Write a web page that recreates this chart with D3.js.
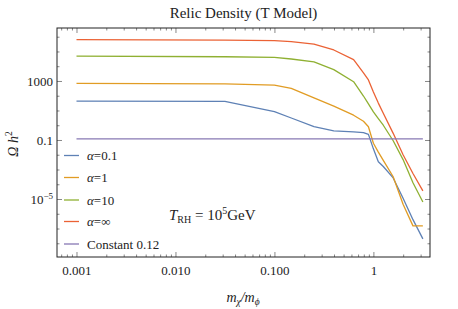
<!DOCTYPE html>
<html><head><meta charset="utf-8">
<script src="https://cdn.jsdelivr.net/npm/d3@7"></script>
<style>body{margin:0;background:#fff}svg{display:block}text{font-family:"Liberation Serif","DejaVu Serif",serif;fill:#222}</style>
</head><body><svg id="c" width="458" height="309"></svg>
<script>
// x values (m_chi / m_phi)
const massRatio = [0.001, 0.0316, 0.1, 0.148, 0.251, 0.398, 0.631, 0.794, 0.891, 1.0, 1.122, 1.259, 1.585, 1.995, 2.512, 3.162];
// log10(Omega h^2) for each series
const alpha01  = [1.64, 1.62, 0.92, 0.49, -0.10, -0.38, -0.45, -0.50, -0.62, -1.60, -2.47, -2.80, -3.57, -4.95, -6.40, -7.70];
const alpha1   = [2.84, 2.80, 2.72, 2.50, 1.86, 1.30, 0.68, 0.27, -0.10, -1.22, -1.82, -2.38, -3.49, -5.35, -6.82, -6.82];
const alpha10  = [4.69, 4.64, 4.60, 4.49, 4.30, 3.77, 2.95, 1.98, 1.45, 0.90, 0.45, 0.00, -1.05, -2.33, -3.90, -5.20];
const alphaInf = [5.80, 5.77, 5.73, 5.66, 5.50, 5.10, 4.45, 3.55, 3.07, 2.25, 1.50, 0.81, -0.55, -2.00, -3.27, -4.45];
const constant = massRatio.map(() => 0.12);
const seriesNames = ["α=0.1", "α=1", "α=10", "α=∞", "Constant 0.12"];
const colors = ["#5E81B5", "#E19C24", "#8FB032", "#EB6235", "#8778B3"];
const xTickLabels = ["0.001", "0.010", "0.100", "1"];
const xTickValues = [0.001, 0.01, 0.1, 1];
const yTickValues = [1e3, 1e-1, 1e-5];

const svg = d3.select("#c");
const L = 57, R = 430, T = 28, B = 257;
const x = d3.scaleLog().domain([Math.pow(10, -3.197), Math.pow(10, 0.572)]).range([L, R]);
const y = d3.scaleLog().domain([Math.pow(10, -8.93), Math.pow(10, 6.59)]).range([B, T]);

// minor ticks
const xMinor = [];
for (let e = -4; e <= 0; e++) for (let m = 2; m <= 9; m++) { const v = m * Math.pow(10, e); if (v >= x.domain()[0] && v <= x.domain()[1]) xMinor.push(v); }
const yMinor = [];
for (let e = -8; e <= 6; e++) { const v = Math.pow(10, e); if ([3, -1, -5].indexOf(e) < 0) yMinor.push(v); }

function styleAxis(g){ g.select(".domain").remove(); g.selectAll("line").attr("stroke","#555").attr("stroke-width",0.7); }
function styleText(g){ g.selectAll("text").attr("font-size",13).attr("font-family","Liberation Serif, serif").attr("fill","#222"); }

// bottom
svg.append("g").attr("transform",`translate(0,${B})`)
  .call(d3.axisBottom(x).tickValues(xTickValues).tickSizeInner(-5).tickSizeOuter(0).tickPadding(9).tickFormat((d,i)=>xTickLabels[i]))
  .call(styleAxis).call(styleText);
svg.append("g").attr("transform",`translate(0,${B})`)
  .call(d3.axisBottom(x).tickValues(xMinor).tickSizeInner(-2.5).tickSizeOuter(0).tickFormat("")).call(styleAxis);
// top
svg.append("g").attr("transform",`translate(0,${T})`)
  .call(d3.axisTop(x).tickValues(xTickValues).tickSizeInner(-5).tickSizeOuter(0).tickFormat("")).call(styleAxis);
svg.append("g").attr("transform",`translate(0,${T})`)
  .call(d3.axisTop(x).tickValues(xMinor).tickSizeInner(-2.5).tickSizeOuter(0).tickFormat("")).call(styleAxis);
// left
const yl = svg.append("g").attr("transform",`translate(${L},0)`)
  .call(d3.axisLeft(y).tickValues(yTickValues).tickSizeInner(-5).tickSizeOuter(0).tickPadding(4).tickFormat(()=>""))
  .call(styleAxis).call(styleText);
yl.selectAll(".tick text").each(function(d){
  const t = d3.select(this);
  if (d === 1e3) t.text("1000");
  else if (d === 1e-1) t.text("0.1");
  else { t.text("10"); t.append("tspan").attr("dy",-5).attr("font-size",9).text("−5"); }
});
svg.append("g").attr("transform",`translate(${L},0)`)
  .call(d3.axisLeft(y).tickValues(yMinor).tickSizeInner(-2.5).tickSizeOuter(0).tickFormat("")).call(styleAxis);
// right
svg.append("g").attr("transform",`translate(${R},0)`)
  .call(d3.axisRight(y).tickValues(yTickValues).tickSizeInner(-5).tickSizeOuter(0).tickFormat("")).call(styleAxis);
svg.append("g").attr("transform",`translate(${R},0)`)
  .call(d3.axisRight(y).tickValues(yMinor).tickSizeInner(-2.5).tickSizeOuter(0).tickFormat("")).call(styleAxis);

// lines
const series = [alpha01, alpha1, alpha10, alphaInf];
const line = d3.line().x(d=>x(d[0])).y(d=>y(d[1]));
const g = svg.append("g");
[...series.map(s=>s.map(v=>Math.pow(10,v))), constant].forEach((s,i)=>{
  g.append("path").datum(massRatio.map((m,j)=>[m,s[j]])).attr("d",line)
   .attr("fill","none").attr("stroke",colors[i]).attr("stroke-width",1.3).attr("stroke-linejoin","round");
});

// frame
svg.append("rect").attr("x",L).attr("y",T).attr("width",R-L).attr("height",B-T)
  .attr("fill","none").attr("stroke","#222").attr("stroke-width",1);

// title
svg.append("text").attr("x",243.5).attr("y",18).attr("text-anchor","middle").attr("font-size",15).text("Relic Density (T Model)");
// axis titles
const yt = svg.append("text").attr("transform","translate(18,144) rotate(-90)").attr("text-anchor","middle").attr("font-size",14).attr("font-style","italic");
yt.append("tspan").text("Ω h");
yt.append("tspan").attr("dy",-6).attr("font-size",9.5).attr("font-style","normal").text("2");
const xt = svg.append("text").attr("x",243).attr("y",302).attr("text-anchor","middle").attr("font-size",14).attr("font-style","italic");
xt.append("tspan").text("m");
xt.append("tspan").attr("dy",3).attr("font-size",9.5).text("χ");
xt.append("tspan").attr("dy",-3).text("/m");
xt.append("tspan").attr("dy",3).attr("font-size",9.5).text("ϕ");

// legend
const legY = [155.5, 177.5, 200, 221.5, 244];
seriesNames.forEach((n,i)=>{
  svg.append("line").attr("x1",64).attr("x2",79).attr("y1",legY[i]).attr("y2",legY[i]).attr("stroke",colors[i]).attr("stroke-width",1.3);
  const t = svg.append("text").attr("x",87).attr("y",legY[i]+4.5).attr("font-size",13);
  if (i < 4) { t.append("tspan").attr("font-style","italic").text("α"); t.append("tspan").text(n.slice(1)); }
  else t.text(n);
});

// annotation
const an = svg.append("text").attr("x",169).attr("y",219.5).attr("font-size",15);
an.append("tspan").attr("font-style","italic").text("T");
an.append("tspan").attr("dy",3).attr("font-size",10).text("RH");
an.append("tspan").attr("dy",-3).text(" = 10");
an.append("tspan").attr("dy",-6).attr("font-size",10).text("5");
an.append("tspan").attr("dy",6).text("GeV");
</script></body></html>
